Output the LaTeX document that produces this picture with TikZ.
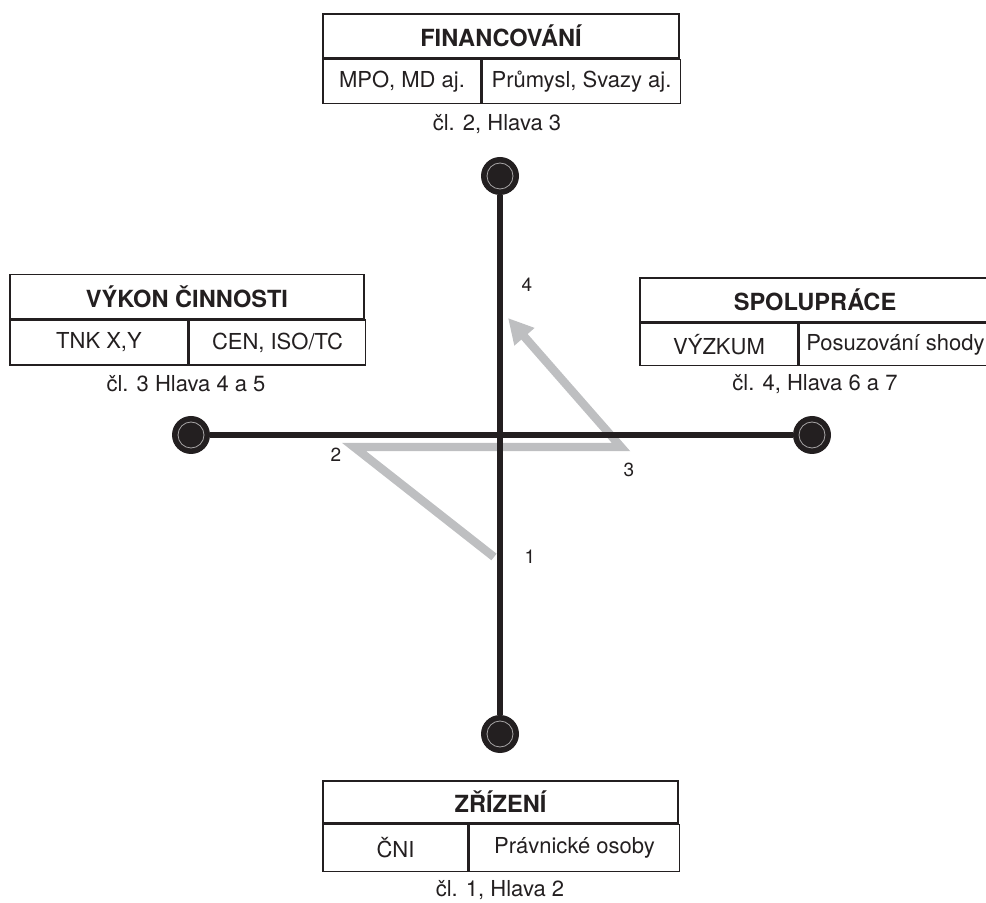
\documentclass[tikz,border=0pt]{standalone}
\usepackage{fontspec}
\setmainfont{TeX Gyre Heros}
\usetikzlibrary{arrows.meta, positioning}

\definecolor{ink}{RGB}{35,31,32}
\definecolor{trail}{RGB}{190,191,193}

\begin{document}
\begin{tikzpicture}[
  x=0.5pt, y=-0.5pt,
  node distance=0pt,
  head/.style    ={rectangle, draw=ink, line width=0.75pt, inner sep=0pt, minimum height=22pt, text=ink, font=\fontsize{11.8}{14}\selectfont\bfseries},
  cell/.style    ={rectangle, draw=ink, line width=0.75pt, inner sep=0pt, minimum height=22pt, text=ink, font=\fontsize{11}{13}\selectfont},
  caption/.style ={text=ink, inner sep=0pt, font=\fontsize{11}{13}\selectfont},
  num/.style     ={text=ink, inner sep=0pt, font=\fontsize{9.5}{11}\selectfont},
  hub/.style     ={circle, fill=ink, minimum size=19pt, inner sep=0pt,
                   path picture={\draw[white!60!ink, line width=0.4pt] (path picture bounding box.center) circle (6.5pt);}},
  axis/.style    ={draw=ink, line width=2.75pt},
  walk/.style    ={draw=trail, line width=4.2pt, line join=miter, -{Triangle[length=12.5pt, width=12.5pt]}}
]
\useasboundingbox (0,0) rectangle (986,903);

% ---- hubs ----
\node[hub] (top)   at (500,176) {};
\node[hub] (bot)   at (500,734) {};
\node[hub] (left)  at (191,435) {};
\node[hub] (right) at (812,435) {};

% ---- walk 1 -> 2 -> 3 -> 4 ----
\coordinate (p1) at (494,557);
\coordinate (p2) at (354,447);
\coordinate (p3) at (621,447);
\coordinate (p4) at (508,318);
\draw[walk] (p1) -- (p2) -- (p3) -- (p4);
\node[num] (n1) at (530,557) {1};
\node[num] (n2) at (336,455) {2};
\node[num] (n3) at (629,470) {3};
\node[num] (n4) at (527,285) {4};

% ---- axes ----
\draw[axis] (top) -- (bot);
\draw[axis] (left) -- (right);

% ---- FINANCOVANI (top) ----
\node[head, minimum width=178pt] (finHead) at (501,36) {FINANCOVÁNÍ};
\node[cell, minimum width=79pt, below right=of finHead.south west] (finA) {MPO, MD aj.};
\node[cell, minimum width=99pt, right=of finA] (finB) {Průmysl, Svazy aj.};
\node[caption] (finCap) at (497,124) {čl. 2, Hlava 3};

% ---- VYKON CINNOSTI (left) ----
\node[head, minimum width=177pt] (vykHead) at (187,296.5) {VÝKON ČINNOSTI};
\node[cell, minimum width=89pt, minimum height=22.5pt, below right=of vykHead.south west] (vykA) {TNK X,Y};
\node[cell, minimum width=88pt, minimum height=22.5pt, right=of vykA] (vykB) {CEN, ISO/TC};
\node[caption] (vykCap) at (186,384) {čl. 3 Hlava 4 a 5};

% ---- SPOLUPRACE (right) ----
\node[head, minimum width=175pt] (spoHead) at (815,300) {SPOLUPRÁCE};
\node[cell, minimum width=79pt, minimum height=21pt, below right=of spoHead.south west] (spoA) {VÝZKUM};
\node[cell, minimum width=96pt, minimum height=21pt, right=of spoA] (spoB) {Posuzování shody};
\node[caption] (spoCap) at (815,384) {čl. 4, Hlava 6 a 7};

% ---- ZRIZENI (bottom) ----
\node[head, minimum width=177.5pt, minimum height=21pt] (zriHead) at (500.5,802) {ZŘÍZENÍ};
\node[cell, minimum width=72.5pt, minimum height=23.5pt, below right=of zriHead.south west] (zriA) {ČNI};
\node[cell, minimum width=105pt, minimum height=23.5pt, right=of zriA] (zriB) {Právnické osoby};
\node[caption] (zriCap) at (500,890) {čl. 1, Hlava 2};

\end{tikzpicture}
\end{document}
